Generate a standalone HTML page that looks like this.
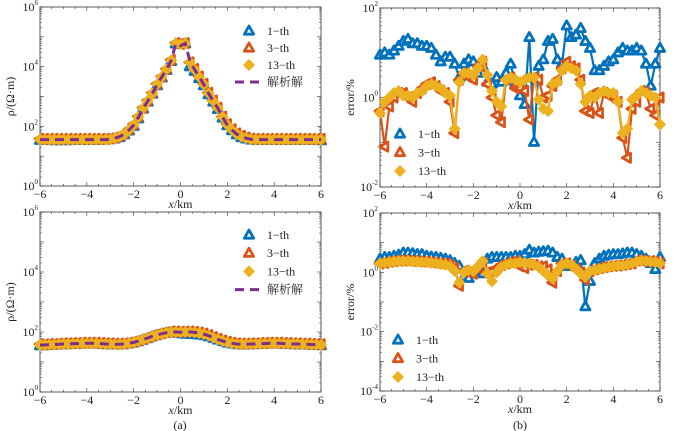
<!DOCTYPE html>
<html><head><meta charset="utf-8"><style>
html,body{margin:0;padding:0;background:#fff;}
svg{display:block;}
text{font-family:"Liberation Serif","Noto Serif CJK SC",serif;fill:#222;}
</style></head><body>
<svg id="fig" width="675" height="431" xmlns="http://www.w3.org/2000/svg"></svg>
<script>
const xs=[];for(let i=0;i<=60;i++)xs.push(-6+i*0.2);
const xTicks=[-6,-4,-2,0,2,4,6];
// Panel a-top: resistivity
const rhoTopAnalytic=[36,36,36,36,36,36,36,36,36,36, 36,36,36,36,36,37,40,45,55,75, 110,200,400,700,1260,2500,4500,8000,16000,60000, 50000,60000,16000,8000,4500,2500,1260,700,400,200, 110,75,55,45,40,37,36,36,36,36, 36,36,36,36,36,36,36,36,36,36,36];
const rhoTop1=[34,34,34,33,33,33,33,34,34,34, 34,34,34,34,35,36,38,42,52,70, 100,180,380,650,1200,2300,4200,7500,15000,58000, 55000,58000,10000,7000,4000,2300,1150,650,370,190, 105,72,52,42,38,35,34,34,34,34, 34,34,34,34,34,34,34,34,34,34,33];
const rhoTop3=[38,38,38,38,38,38,38,38,38,38, 38,38,38,38,38,39,42,48,58,80, 118,215,420,740,1330,2650,4700,8400,17000,62000, 58000,62000,14000,8400,4700,2650,1330,740,420,210, 118,80,58,48,42,39,38,38,38,38, 38,38,38,38,38,38,38,38,38,38,38];
const rhoTop13=[36,36,36,36,36,36,36,36,36,36, 36,36,36,36,36,37,40,45,55,76, 112,205,405,710,1280,2550,4550,8100,16000,60000, 56000,60000,14000,8000,4500,2500,1270,710,405,205, 112,76,55,45,40,37,36,36,36,36, 36,36,36,36,36,36,36,36,36,36,36];
// Panel a-bottom
const rhoBotAnalytic=[37,37,38,38,39,40,40,41,41,42, 42,42,42,41,40,40,39,39,40,42, 45,50,56,63,72,80,88,95,100,100, 98,100,100,97,92,85,75,65,56,50, 45,42,40,39,39,40,40,41,41,42, 42,42,41,41,40,40,39,39,38,38,37];
const rhoBot1=[35,35,36,36,37,38,38,39,39,40, 40,40,40,39,38,38,37,37,38,40, 43,48,54,61,70,78,86,93,96,92, 88,85,84,82,80,76,70,62,54,48, 43,40,38,37,37,38,38,39,39,40, 40,40,39,39,38,38,37,37,36,36,35];
const rhoBot3=[39,39,40,40,41,42,42,43,43,44, 44,44,44,43,42,42,41,41,42,44, 47,52,58,66,75,83,91,98,104,104, 102,104,104,101,96,89,79,68,59,52, 47,44,42,41,41,42,42,43,43,44, 44,44,43,43,42,42,41,41,40,40,39];
const rhoBot13=[37,37,38,38,39,40,40,41,41,42, 42,42,42,41,40,40,39,39,40,42, 45,50,56,63,72,80,88,95,100,100, 98,100,100,97,92,85,75,65,56,50, 45,42,40,39,39,40,40,41,41,42, 42,42,41,41,40,40,39,39,38,38,37];
// Panel b-top: error %
const errTop1=[8.9,10,8.9,11,14,18,20,16,16,14, 14,12.6,8.9,6.3,8,8,5.6,2.8,5.6,7, 6.3,3.5,5,2.2,2,2.8,2.2,3.5,5.6,2, 1.1,0.7,22,0.1,5,7,18,20,7,5.6, 40,22,25,35,18,12.6,4,4,5,6.3, 7,10,12.6,11,11,12.6,11,5.6,1.8,5.6,12.6];
const errTop3=[0.5,0.08,0.63,1,1.26,1.26,1,0.8,1.26,1.6, 2,2.2,1.8,1.4,1.26,0.8,0.16,2.5,3.5,2.8, 2.5,5,6.3,2,1,0.4,0.28,2.5,2.8,1.6, 1.6,1.4,0.32,2.8,2.5,1,1.1,1.8,2.5,4.5, 6.3,5,4.5,2.5,0.5,0.45,1.26,0.45,1.26,1.1, 1.1,0.8,0.125,0.045,0.56,0.8,1.4,1.26,0.56,0.4,1];
const errTop13=[0.45,0.8,1,1.26,1.4,1.1,1.1,1,1.26,1.4, 1.8,2,1.8,1.6,1.26,1.1,0.2,2.2,3.5,3.5, 3.2,4.5,7,3.2,1.4,0.8,0.63,2.5,2.8,2.5, 2.2,2.5,2.8,2.8,0.9,0.56,0.5,2,2.2,4, 5,4.5,4,2,0.8,1.1,1,1.26,1.4,1.26, 1.26,0.8,0.16,0.2,0.9,1.1,1.4,1.26,1.1,1,0.25];
// Panel b-bottom
const errBot1=[2.8,3.2,3.2,3.5,3.8,4.5,4.5,4.3,4,4, 3.5,3.3,3.2,3,2.8,2.5,2,1.6,0.7,0.63, 1,1.1,0.9,2.8,3.2,3.2,3.2,3.2,3.2,3.5, 3.5,4,5.6,4.5,4.8,5,5.2,4.5,3.2,2.8, 1.6,1.6,2.2,2.5,0.07,0.5,2,2.8,3.5,3.8, 4,4,4.2,4.5,4.5,4,3.5,2.8,2,1.26,3.2];
const errBot3=[2,2.1,2.3,2.4,2.5,2.5,2.5,2.4,2.4,2.3, 2.3,2.2,2.1,2,2,1.8,1.4,0.35,1.1,1, 0.9,1.4,2,1,1.1,1.4,1.8,2,2.2,2.4, 1.6,1.4,1.8,1.8,1.6,1.6,1.26,0.45,1.1,2, 2,1.6,1.26,1,0.56,1.1,1.26,1.4,1.5,1.6, 1.66,1.7,1.8,1.9,2,2.5,2.5,2.4,2.4,2.3,2];
const errBot13=[2,2.1,2.2,2.3,2.4,2.4,2.4,2.3,2.3,2.2, 2.2,2.1,2,1.9,1.8,1.6,1.1,0.45,1,1.2, 1.1,1.6,2.4,0.9,0.5,1,1.5,1.8,2,2, 2.2,2.1,2,1.8,1.5,1.1,0.8,0.63,1.1,1.8, 2,1.8,1.3,0.9,0.7,1.1,1.2,1.3,1.4,1.5, 1.6,1.7,1.7,1.8,2,2.3,2.5,2.4,2.3,2.2,2];

const C1='#0072BD',C3='#D95319',C13='#EDB120',CA='#7E2F8E';
const NS='http://www.w3.org/2000/svg';
const svg=document.getElementById('fig');
function mk(tag,attrs,parent){const e=document.createElementNS(NS,tag);for(const k in attrs)e.setAttribute(k,attrs[k]);(parent||svg).appendChild(e);return e;}

function panel(name,L,R,T,B,ymin,ymax,ylabel,decStep){
  const g=mk('g',{});
  
  
  const sx=x=>L+(x+6)/12*(R-L);
  const sy=v=>B-(Math.log10(v)-ymin)/(ymax-ymin)*(B-T);
  const fr=mk('rect',{x:L,y:T,width:R-L,height:B-T,fill:'none',stroke:'#333','stroke-width':0.8},g);
  
  
  for(let v=-6;v<=6;v+=0.5){
    const x=sx(v),len=(v%2===0)?4:2;
    mk('line',{x1:x,y1:B,x2:x,y2:B-len,stroke:'#333','stroke-width':0.6},g);
    mk('line',{x1:x,y1:T,x2:x,y2:T+len,stroke:'#333','stroke-width':0.6},g);
  }
  xTicks.forEach(v=>{
    const t=mk('text',{x:sx(v),y:B+12,'font-size':12,'text-anchor':'middle'},g);
    t.textContent=(v<0?'\u2212':'')+Math.abs(v);
    
    
  });
  const xl=mk('text',{x:(L+R)/2,y:B+22,'font-size':12,'text-anchor':'middle'},g);
  xl.innerHTML='<tspan font-style="italic">x</tspan>/km';
  
  
  for(let d=ymin;d<=ymax;d++){
    const y=sy(Math.pow(10,d));
    mk('line',{x1:L,y1:y,x2:L+4,y2:y,stroke:'#333','stroke-width':0.6},g);
    mk('line',{x1:R,y1:y,x2:R-4,y2:y,stroke:'#333','stroke-width':0.6},g);
    if(d<ymax){for(let m=2;m<10;m++){const yy=sy(m*Math.pow(10,d));
      mk('line',{x1:L,y1:yy,x2:L+2,y2:yy,stroke:'#333','stroke-width':0.5},g);
      mk('line',{x1:R,y1:yy,x2:R-2,y2:yy,stroke:'#333','stroke-width':0.5},g);}}
    if((d-ymin)%decStep===0){
      const t=mk('text',{x:L-2,y:y+4,'font-size':12,'text-anchor':'end'},g);
      t.innerHTML='10<tspan font-size="7" dy="-6">'+d+'</tspan>';
      
      
    }
  }
  const yl=mk('text',{x:0,y:0,'font-size':12,'text-anchor':'middle',transform:`translate(${L-26},${(T+B)/2}) rotate(-90)`},g);
  yl.textContent=ylabel;
  
  
  return {g,sx,sy,L,R,T,B};
}
function tri(g,x,y,c,rot){return mk('polygon',{points:`${x},${y-5} ${x+4.6},${y+3.2} ${x-4.6},${y+3.2}`,fill:'#fff',stroke:c,'stroke-width':2.8,'stroke-linejoin':'round',transform:rot?`rotate(${rot} ${x} ${y})`:''},g);}
function dia(g,x,y,c){return mk('polygon',{points:`${x},${y-5} ${x+5},${y} ${x},${y+5} ${x-5},${y}`,fill:c,stroke:c,'stroke-width':1.5,'stroke-linejoin':'round'},g);}
function series(p,vals,c,kind,line,name){
  const sg=mk('g',{},p.g);
  
  
  if(line){mk('polyline',{points:vals.map((v,i)=>p.sx(xs[i])+','+p.sy(v)).join(' '),fill:'none',stroke:c,'stroke-width':2.2},sg);}
  vals.forEach((v,i)=>{const x=p.sx(xs[i]),y=p.sy(v);
    if(kind==='tri')tri(sg,x,y,c,0);else if(kind==='trl')tri(sg,x,y,c,-90);else dia(sg,x,y,c);});
}
function analytic(p,vals,name){
  const a=mk('polyline',{points:vals.map((v,i)=>p.sx(xs[i])+','+p.sy(v)).join(' '),fill:'none',stroke:CA,'stroke-width':3,'stroke-dasharray':'9,6'},p.g);
  
  
}
function legend(p,x,y0,dy,withA,name){
  const lg=mk('g',{},p.g);
  
  
  const items=[['1-th',C1,'tri'],['3-th',C3,'tri'],['13-th',C13,'dia']];
  items.forEach((it,i)=>{const y=y0+i*dy;
    if(it[2]==='tri')tri(lg,x,y,it[1],0);else dia(lg,x,y,it[1]);
    const t=mk('text',{x:x+18,y:y+4,'font-size':12},lg);t.textContent=it[0].replace('-','\u2212');
    
    });
  if(withA){const y=y0+3*dy;
    mk('line',{x1:x-14,y1:y,x2:x+14,y2:y,stroke:CA,'stroke-width':3,'stroke-dasharray':'9,6'},lg);
    const t=mk('text',{x:x+18,y:y+4,'font-size':12},lg);t.textContent='解析解';
    
    }
}
const pa=panel('panel-a-top',40,321,7,186,0,6,'ρ/(Ω·m)',2);
series(pa,rhoTop1,C1,'tri',false,'series-1th');
series(pa,rhoTop3,C3,'trl',false,'series-3th');
series(pa,rhoTop13,C13,'dia',false,'series-13th');
analytic(pa,rhoTopAnalytic,'series-analytic');
legend(pa,249,31,17,true,'legend');

const pb=panel('panel-b-top',380,660,8,187,-2,2,'error/%',2);
series(pb,errTop1,C1,'tri',true,'series-1th');
series(pb,errTop3,C3,'trl',true,'series-3th');
series(pb,errTop13,C13,'dia',true,'series-13th');
legend(pb,400,134,18.5,false,'legend');

const pc=panel('panel-a-bottom',40,321,212,392,0,6,'ρ/(Ω·m)',2);
series(pc,rhoBot1,C1,'tri',false,'series-1th');
series(pc,rhoBot3,C3,'trl',false,'series-3th');
series(pc,rhoBot13,C13,'dia',false,'series-13th');
analytic(pc,rhoBotAnalytic,'series-analytic');
legend(pc,249,235,18.2,true,'legend');

const pd=panel('panel-b-bottom',380,660,213,391,-4,2,'error/%',2);
series(pd,errBot1,C1,'tri',true,'series-1th');
series(pd,errBot3,C3,'trl',true,'series-3th');
series(pd,errBot13,C13,'dia',true,'series-13th');
legend(pd,398,340,18.5,false,'legend');

const ca=mk('text',{x:180,y:429,'font-size':12,'text-anchor':'middle'});ca.textContent='(a)';


const cb=mk('text',{x:520,y:429,'font-size':12,'text-anchor':'middle'});cb.textContent='(b)';


</script>
</body></html>
